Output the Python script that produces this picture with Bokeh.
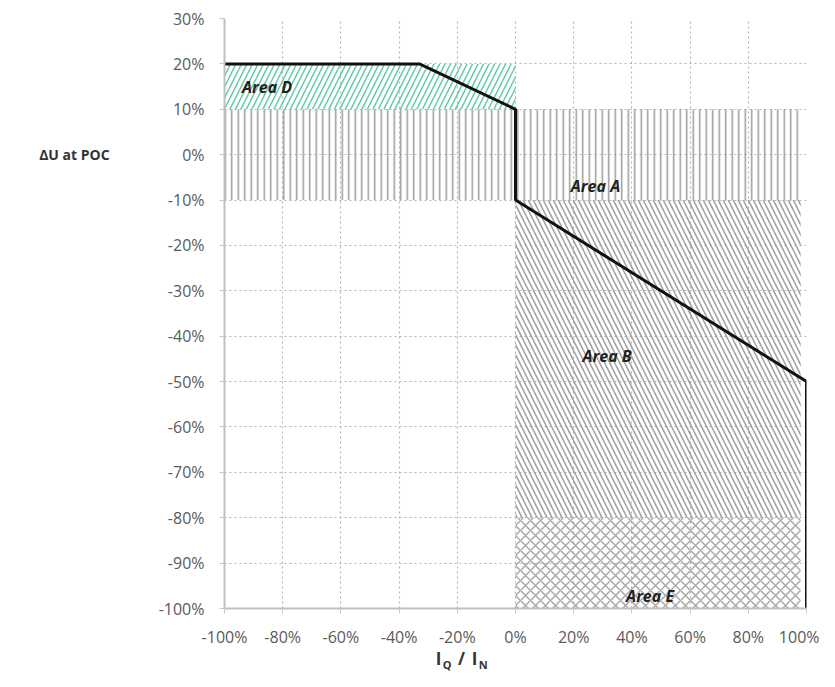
from bokeh.plotting import figure
from bokeh.models import Label, FixedTicker, PrintfTickFormatter, Range1d
from bokeh.embed import file_html
from bokeh.resources import INLINE

# Limit curve (I_Q/I_N in %, dU in %)
curve_x = [-100, -33, 0, 0, 100, 100]
curve_y = [20, 20, 10, -10, -50, -100]

# Hatched areas
area_names = ["Area D", "Area A", "Area B", "Area E"]
area_x0 = [-100, -100, 0, 0]
area_x1 = [0, 98, 98, 98]
area_y0 = [10, -10, -80, -100]
area_y1 = [20, 10, -10, -80]
area_hatch = ["/", "|", "\\", "x"]
area_color = ["#55c49b", "#8f8f8f", "#959595", "#a0a0a0"]
area_scale = [11, 6.5, 10, 10]

# Area label positions
label_x = [-94, 19, 23, 38]
label_y = [15, -7, -44.4, -97.3]

x_ticks = [-100, -80, -60, -40, -20, 0, 20, 40, 60, 80, 100]
y_ticks = [30, 20, 10, 0, -10, -20, -30, -40, -50, -60, -70, -80, -90, -100]

FONT = "Open Sans"

p = figure(width=819, height=671, output_backend="svg", toolbar_location=None,
           x_range=Range1d(-100, 100), y_range=Range1d(-100, 30),
           min_border_left=224, min_border_right=13, min_border_top=18,
           min_border_bottom=63)
p.outline_line_color = None
p.background_fill_color = "white"

for i in range(len(area_names)):
    p.quad(left=area_x0[i], right=area_x1[i], bottom=area_y0[i], top=area_y1[i],
           fill_color=None, line_color=None,
           hatch_pattern=area_hatch[i], hatch_color=area_color[i],
           hatch_scale=area_scale[i], hatch_weight=1.5, hatch_alpha=0.9)

p.line(curve_x, curve_y, line_color="#111111", line_width=3)

for i in range(len(area_names)):
    p.add_layout(Label(x=label_x[i], y=label_y[i], text=area_names[i],
                       text_font=FONT, text_font_size="16px",
                       text_font_style="bold italic", text_color="#222222",
                       text_baseline="middle",
                       background_fill_color=None))

for ax in (p.xaxis[0], p.yaxis[0]):
    ax.major_label_text_font = FONT
    ax.major_label_text_font_size = "16px"
    ax.major_label_text_color = "#5a5a5a"
    ax.axis_line_color = "#c0c0c0"
    ax.axis_line_width = 2
    ax.major_tick_line_color = "#c8c8c8"
    ax.major_tick_in = 0
    ax.major_tick_out = 5
    ax.minor_tick_line_color = None
    ax.formatter = PrintfTickFormatter(format="%d%%")

p.xaxis[0].ticker = FixedTicker(ticks=x_ticks)
p.yaxis[0].ticker = FixedTicker(ticks=y_ticks)
p.xaxis[0].major_label_standoff = 12
p.yaxis[0].major_label_standoff = 15

p.xgrid.ticker = FixedTicker(ticks=x_ticks)
p.ygrid.ticker = FixedTicker(ticks=y_ticks)
for g in (p.xgrid[0], p.ygrid[0]):
    g.grid_line_color = "#b5b5b5"
    g.grid_line_dash = "2 3"
    g.grid_line_width = 1.2

# Axis titles, placed in the left side panel so they are not clipped
p.add_layout(Label(x=-163.7, y=0, text="\u0394U at POC", text_font=FONT,
                   text_font_size="14px", text_font_style="bold",
                   text_color="#333333", text_baseline="middle"), "left")

xt_y = -111.0
parts = [(-27.4, "I", "17px", 0), (-25.0, "Q", "11px", -1.3),
         (-19.8, "/", "17px", 0), (-15.0, "I", "17px", 0), (-12.6, "N", "11px", -1.3)]
for px, t, fs, dy in parts:
    p.add_layout(Label(x=px, y=xt_y + dy, text=t, text_font=FONT,
                       text_font_size=fs, text_font_style="bold",
                       text_color="#333333", text_baseline="middle"), "left")

open("out.html", "w").write(file_html(p, INLINE))
